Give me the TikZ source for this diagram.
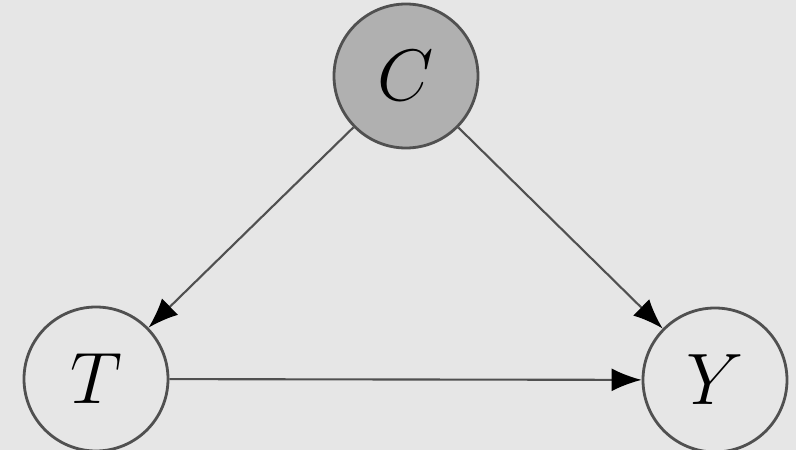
\documentclass[tikz,border=0pt]{standalone}
\usepackage{amsmath,amssymb}
\usepackage{tikz}
\usetikzlibrary{arrows.meta,positioning,calc}

\definecolor{bgray}{HTML}{E6E6E6}
\definecolor{cgray}{HTML}{B0B0B0}
\definecolor{lgray}{HTML}{505050}

\begin{document}
\begin{tikzpicture}[
    var/.style={circle, draw=lgray, line width=0.8pt, minimum size=1.44cm, inner sep=0pt, fill=bgray, font=\fontsize{22}{26}\selectfont},
    arr/.style={-{Latex[length=3mm, width=2.3mm, color=black]}, line width=0.6pt, draw=lgray}
]
\fill[bgray] (0,0) rectangle (7.96,4.5);
\useasboundingbox (0,0) rectangle (7.96,4.5);
\node[var, fill=cgray] (conf) at (4.06,3.74) {$C$};
\node[var] (treat) at (0.96,0.71) {$T$};
\node[var] (outc) at (7.15,0.70) {$Y$};

\draw[arr] (conf) -- (treat);
\draw[arr] (conf) -- (outc);
\draw[arr] (treat) -- (outc);
\end{tikzpicture}
\end{document}
